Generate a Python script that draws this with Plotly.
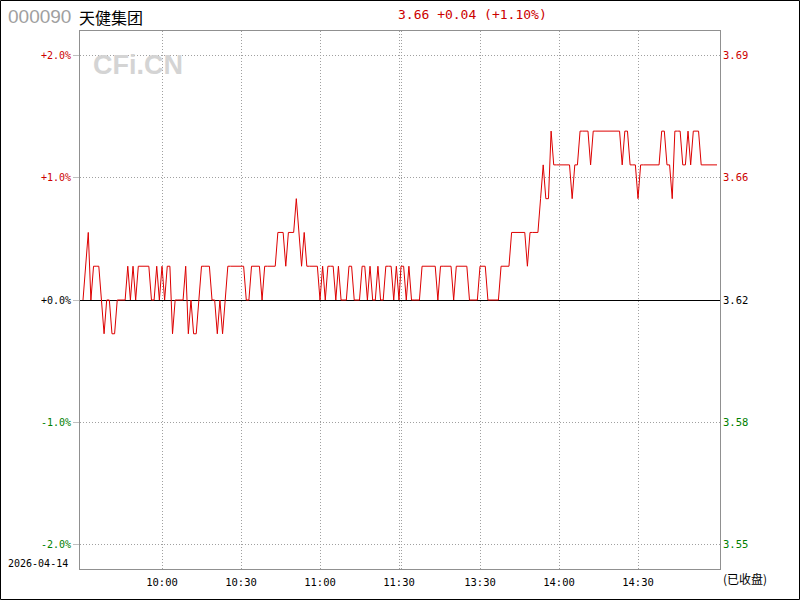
import plotly.graph_objects as go

prev_close = 3.62

# minute close prices, 09:30-11:30 (121 points)
am_prices = [3.62,3.63,3.64,3.62,3.63,3.63,3.63,3.62,3.61,3.62,
             3.62,3.61,3.61,3.62,3.62,3.62,3.62,3.63,3.62,3.63,
             3.62,3.63,3.63,3.63,3.63,3.63,3.62,3.62,3.63,3.62,
             3.63,3.62,3.63,3.63,3.61,3.62,3.62,3.62,3.62,3.63,
             3.61,3.62,3.61,3.61,3.62,3.63,3.63,3.63,3.63,3.62,
             3.62,3.61,3.62,3.61,3.62,3.63,3.63,3.63,3.63,3.63,
             3.63,3.63,3.62,3.62,3.63,3.63,3.63,3.63,3.62,3.63,
             3.63,3.63,3.63,3.63,3.64,3.64,3.64,3.63,3.64,3.64,
             3.64,3.65,3.64,3.63,3.64,3.63,3.63,3.63,3.63,3.63,
             3.62,3.63,3.62,3.63,3.63,3.63,3.62,3.63,3.62,3.62,
             3.62,3.63,3.63,3.62,3.62,3.62,3.63,3.63,3.62,3.63,
             3.62,3.62,3.63,3.62,3.62,3.63,3.63,3.63,3.62,3.63,
             3.62]

# minute close prices, 13:00-15:00 (121 points)
pm_prices = [3.63,3.63,3.62,3.63,3.62,3.62,3.62,3.62,3.63,3.63,
             3.63,3.63,3.63,3.63,3.62,3.63,3.63,3.63,3.63,3.63,
             3.62,3.63,3.63,3.63,3.63,3.63,3.62,3.62,3.62,3.62,
             3.63,3.63,3.63,3.62,3.62,3.62,3.62,3.62,3.63,3.63,
             3.63,3.63,3.64,3.64,3.64,3.64,3.64,3.64,3.63,3.64,
             3.64,3.64,3.64,3.65,3.66,3.65,3.65,3.67,3.66,3.66,
             3.66,3.66,3.66,3.66,3.66,3.65,3.66,3.66,3.67,3.67,
             3.67,3.67,3.66,3.67,3.67,3.67,3.67,3.67,3.67,3.67,
             3.67,3.67,3.67,3.67,3.66,3.67,3.67,3.66,3.66,3.66,
             3.65,3.66,3.66,3.66,3.66,3.66,3.66,3.66,3.66,3.67,
             3.67,3.66,3.66,3.65,3.67,3.67,3.67,3.66,3.66,3.67,
             3.66,3.67,3.67,3.67,3.66,3.66,3.66,3.66,3.66,3.66,
             3.66]

time_labels = ["10:00", "10:30", "11:00", "11:30", "", "13:30", "14:00", "14:30"]
pct_ticks = [2.0, 1.0, 0.0, -1.0, -2.0]
pct_labels = ["+2.0%", "+1.0%", "+0.0%", "-1.0%", "-2.0%"]
price_labels = ["3.69", "3.66", "3.62", "3.58", "3.55"]
tick_colors = ["#cc0000", "#cc0000", "#000000", "#008000", "#008000"]

stock_code = "000090"
stock_name = "天健集团"
last_price = "3.66"
change = "+0.04"
change_pct = "(+1.10%)"
date_text = "2026-04-14"
status_text = "(已收盘)"

PM_OFFSET = 120.76  # afternoon session starts just right of 11:30
am_x = list(range(len(am_prices)))
pm_x = [PM_OFFSET + j for j in range(len(pm_prices))]
xs = am_x + pm_x
pct = [(p - prev_close) / prev_close * 100 for p in am_prices + pm_prices]

tick_x = [30, 60, 90, 120, PM_OFFSET, PM_OFFSET + 30, PM_OFFSET + 60, PM_OFFSET + 90]

fig = go.Figure()
fig.add_trace(go.Scatter(x=xs, y=pct, mode="lines",
                         line=dict(color="#dd0000", width=1),
                         hoverinfo="skip", showlegend=False))
fig.add_trace(go.Scatter(x=[0], y=[0], yaxis="y2", mode="markers",
                         marker=dict(opacity=0), hoverinfo="skip", showlegend=False))

mono = "DejaVu Sans Mono"
L, R, T, B = 80, 80, 31, 31
W, H = 800, 600
pw, ph = W - L - R, H - T - B


def px(x):
    return (x - L) / pw


def py(y):
    return (H - B - y) / ph


fig.update_layout(
    width=W, height=H,
    margin=dict(l=L, r=R, t=T, b=B, pad=0),
    paper_bgcolor="white", plot_bgcolor="white",
    xaxis=dict(range=[-1.14, 241.9], tickvals=tick_x, ticktext=time_labels,
               showgrid=True, gridcolor="#a0a0a0", griddash="1px,2px", gridwidth=1,
               showline=True, mirror=True, linecolor="#909090", linewidth=1,
               zeroline=False, ticks="", ticklabelstandoff=3,
               tickfont=dict(family=mono, size=10.5, color="black")),
    yaxis=dict(range=[-2.2, 2.2], tickvals=pct_ticks,
               ticktext=[f"<span style='color:{c}'>{t}</span>" for t, c in zip(pct_labels, tick_colors)],
               showgrid=True, gridcolor="#a0a0a0", griddash="1px,2px", gridwidth=1,
               showline=True, mirror=True, linecolor="#909090", linewidth=1,
               zeroline=True, zerolinecolor="black", zerolinewidth=1,
               ticks="outside", ticklen=6, tickcolor="#c0c0c0",
               tickfont=dict(family=mono, size=10)),
    yaxis2=dict(range=[-2.2, 2.2], overlaying="y", side="right", tickvals=pct_ticks,
                ticktext=[f"<span style='color:{c}'>{t}</span>" for t, c in zip(price_labels, tick_colors)],
                showgrid=False, zeroline=False, showline=False, ticks="",
                ticklabelstandoff=2, tickfont=dict(family=mono, size=10.5)),
    shapes=[dict(type="rect", xref="paper", yref="paper",
                 x0=px(0.5), x1=px(799.5), y0=py(599.5), y1=py(0.5),
                 line=dict(color="black", width=1))],
    annotations=[
        dict(text=stock_code, x=px(6), y=py(16.5), xref="paper", yref="paper",
             xanchor="left", yanchor="middle", showarrow=False,
             font=dict(family="Liberation Sans", size=19, color="#a0a0a0")),
        dict(text=stock_name, x=px(77), y=py(16.5), xref="paper", yref="paper",
             xanchor="left", yanchor="middle", showarrow=False,
             font=dict(family="Noto Sans CJK SC", size=16, color="black")),
        dict(text=f"{last_price} {change} {change_pct}", x=px(472), y=py(14.5),
             xref="paper", yref="paper", xanchor="center", yanchor="middle", showarrow=False,
             font=dict(family=mono, size=13, color="#cc0000")),
        dict(text="<b>CFi.CN</b>", x=px(138), y=py(65), xref="paper", yref="paper",
             xanchor="center", yanchor="middle", showarrow=False,
             font=dict(family="Liberation Sans", size=27, color="#d4d4d4")),
        dict(text=date_text, x=px(6), y=py(563), xref="paper", yref="paper",
             xanchor="left", yanchor="middle", showarrow=False,
             font=dict(family=mono, size=10, color="black")),
        dict(text=status_text, x=px(721), y=py(578), xref="paper", yref="paper",
             xanchor="left", yanchor="middle", showarrow=False,
             font=dict(family="Noto Sans CJK SC", size=12, color="black")),
    ],
)

fig.write_html("out.html", config={"displayModeBar": False},
               post_script="document.body.style.margin='0';document.body.style.padding='0';")
